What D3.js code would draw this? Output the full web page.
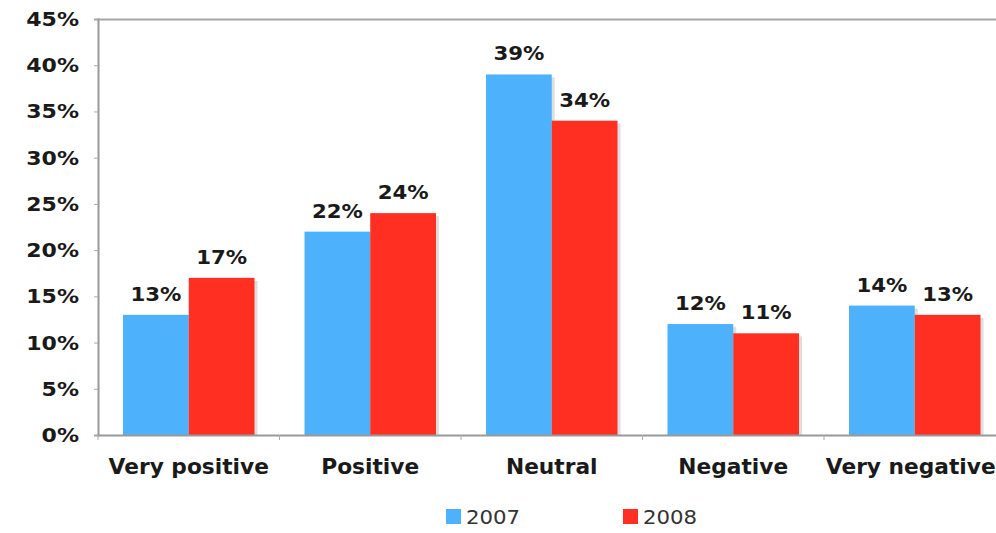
<!DOCTYPE html>
<html>
<head>
<meta charset="utf-8">
<script src="https://cdn.jsdelivr.net/npm/d3@7"></script>
<style>
  html, body { margin: 0; padding: 0; background: #fff; }
  svg { display: block; }
</style>
</head>
<body>
<svg id="chart" width="996" height="533"></svg>
<script>
// Survey sentiment by year
const categories = ["Very positive", "Positive", "Neutral", "Negative", "Very negative"];
const years = ["2007", "2008"];
const values2007 = [13, 22, 39, 12, 14];
const values2008 = [17, 24, 34, 11, 13];
const yTicks = [0, 5, 10, 15, 20, 25, 30, 35, 40, 45];
const colors = ["#4db1fb", "#ff2f21"];

const svg = d3.select("#chart");
const plotLeft = 98, plotTop = 19, plotBottom = 435, plotRight = 1005.5;

const x = d3.scaleBand().domain(categories).range([plotLeft, plotRight]).paddingInner(0).paddingOuter(0);
const groupPad = 25;
const xs = d3.scaleBand().domain(years).range([groupPad, x.bandwidth() - groupPad]).padding(0);
const y = d3.scaleLinear().domain([0, 45]).range([plotBottom, plotTop]);

const font = "'DejaVu Sans', Verdana, sans-serif";
const sx = 1.12; // horizontal stretch of the lettering

// plot frame: top border
svg.append("line")
  .attr("x1", plotLeft).attr("x2", 996).attr("y1", plotTop + 0.5).attr("y2", plotTop + 0.5)
  .attr("stroke", "#a6a6a6").attr("stroke-width", 2);

// y axis
const yAxis = svg.append("g").attr("transform", `translate(${plotLeft},0)`)
  .call(d3.axisLeft(y).tickValues(yTicks).tickSize(4).tickFormat(d => d + "%"));
yAxis.select(".domain").attr("stroke", "#999").attr("stroke-width", 2);
yAxis.selectAll(".tick line").attr("stroke", "#aaa");
yAxis.selectAll(".tick text").remove();

// y tick labels, right aligned, slightly stretched
svg.append("g").selectAll("text").data(yTicks).join("text")
  .attr("transform", d => `translate(79,${y(d) + 7}) scale(1.16,1)`)
  .attr("text-anchor", "end")
  .attr("font-family", font).attr("font-weight", "bold").attr("font-size", 19)
  .attr("fill", "#1a1a1a")
  .text(d => d + "%");

const series = years.map((yr, i) => ({ year: yr, values: i === 0 ? values2007 : values2008, color: colors[i] }));
const rows = [];
series.forEach(s => s.values.forEach((v, j) => rows.push({ cat: categories[j], year: s.year, v, color: s.color })));

// bar shadows
svg.append("g").selectAll("rect").data(rows).join("rect")
  .attr("x", d => x(d.cat) + xs(d.year) + 3)
  .attr("y", d => y(d.v) + 3)
  .attr("width", xs.bandwidth())
  .attr("height", d => plotBottom - y(d.v) - 3)
  .attr("fill", "#dedede");

// bars
svg.append("g").selectAll("rect").data(rows).join("rect")
  .attr("x", d => x(d.cat) + xs(d.year))
  .attr("y", d => y(d.v))
  .attr("width", xs.bandwidth())
  .attr("height", d => plotBottom - y(d.v))
  .attr("fill", d => d.color);

// x axis
const xAxis = svg.append("g").attr("transform", `translate(0,${plotBottom})`)
  .call(d3.axisBottom(x).tickSize(0).tickFormat(""));
xAxis.select(".domain").attr("stroke", "#999").attr("stroke-width", 2);
xAxis.selectAll(".tick").remove();
svg.append("g").selectAll("line").data(categories.slice(1).map(c => x(c)).concat([plotLeft])).join("line")
  .attr("x1", d => d).attr("x2", d => d)
  .attr("y1", plotBottom).attr("y2", plotBottom + 5)
  .attr("stroke", "#aaa");

// category labels
svg.append("g").selectAll("text").data(categories).join("text")
  .attr("transform", d => `translate(${x(d) + x.bandwidth() / 2 - (d === "Very negative" ? 4 : 0)},474) scale(1.06,1)`)
  .attr("text-anchor", "middle")
  .attr("font-family", font).attr("font-weight", "bold").attr("font-size", 20.5)
  .attr("fill", "#1a1a1a")
  .text(d => d);

// value labels
svg.append("g").selectAll("text").data(rows).join("text")
  .attr("transform", d => `translate(${x(d.cat) + xs(d.year) + xs.bandwidth() / 2},${y(d.v) - 14}) scale(${sx},1)`)
  .attr("text-anchor", "middle")
  .attr("font-family", font).attr("font-weight", "bold").attr("font-size", 19)
  .attr("fill", "#1a1a1a")
  .text(d => d.v + "%");

// legend
const legendX = [446, 623];
const legend = svg.append("g").selectAll("g").data(series).join("g")
  .attr("transform", (d, i) => `translate(${legendX[i]},509)`);
legend.append("rect").attr("width", 15).attr("height", 15).attr("fill", d => d.color);
legend.append("text")
  .attr("transform", `translate(20,15) scale(${sx},1)`)
  .attr("font-family", font).attr("font-size", 19)
  .attr("fill", "#333")
  .text(d => d.year);
</script>
</body>
</html>
